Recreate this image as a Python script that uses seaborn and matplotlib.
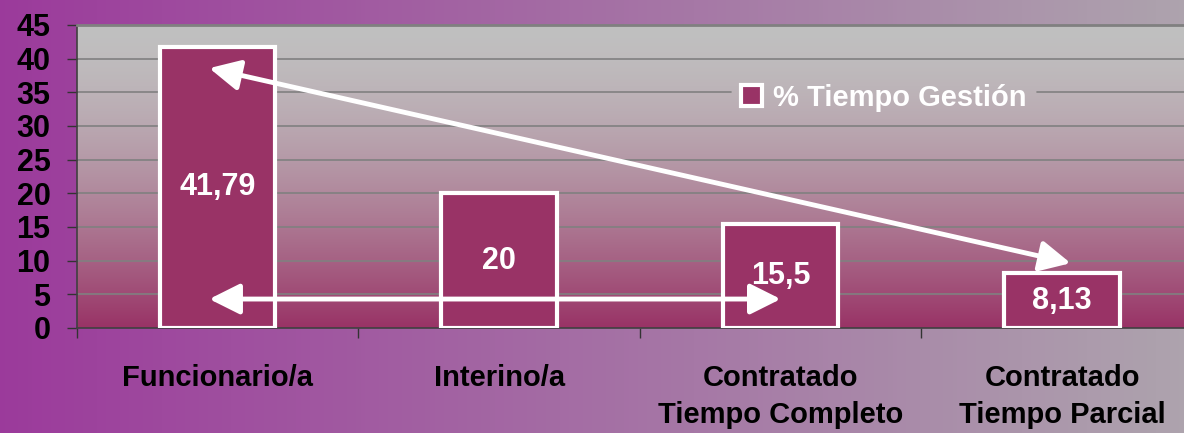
import numpy as np
import matplotlib
matplotlib.use("Agg")
import matplotlib.pyplot as plt
import seaborn as sns
from matplotlib.patches import Patch

# data
categories = ["Funcionario/a", "Interino/a", "Contratado\nTiempo Completo", "Contratado\nTiempo Parcial"]
values = [41.79, 20, 15.5, 8.13]
series_name = "% Tiempo Gestión"
y_ticks = list(range(0, 50, 5))

MAROON = "#993366"

sns.set_style("white")
plt.rcParams["font.family"] = ["Liberation Sans", "DejaVu Sans"]
plt.rcParams["font.weight"] = "bold"
plt.rcParams["text.color"] = "black"
plt.rcParams["xtick.color"] = "black"
plt.rcParams["ytick.color"] = "black"

fig = plt.figure(figsize=(11.84, 4.33), dpi=100)

# purple -> grey horizontal background of the slide
bg = fig.add_axes([0, 0, 1, 1], zorder=-10)
c_left = np.array([0.61, 0.23, 0.61])
c_right = np.array([0.68, 0.64, 0.68])
t = np.linspace(0, 1, 256)
grad = c_left[None, :] * (1 - t[:, None]) + c_right[None, :] * t[:, None]
bg.imshow(grad[None, :, :], aspect="auto", extent=[0, 1, 0, 1])
bg.axis("off")

ax = fig.add_axes([0.065, 0.2425, 0.951, 0.6998])

# grey -> maroon vertical gradient inside the plot area
c_top = np.array([0.753, 0.753, 0.753])
c_bot = np.array([0.60, 0.20, 0.40])
v = np.linspace(0, 1, 256)
w = v ** 1.6
vgrad = c_top[None, :] * (1 - w[:, None]) + c_bot[None, :] * w[:, None]
ax.imshow(vgrad[:, None, :], aspect="auto", extent=[-0.5, 3.5, 0, 45], zorder=-1)

# gridlines (the one behind the legend is interrupted)
for yt in y_ticks[1:-1]:
    if yt == 35:
        ax.axhline(yt, xmin=0, xmax=0.581, color="#808080", lw=1.2, zorder=0.5)
        ax.axhline(yt, xmin=0.853, xmax=1, color="#808080", lw=1.2, zorder=0.5)
    else:
        ax.axhline(yt, color="#808080", lw=1.2, zorder=0.5)

sns.barplot(x=categories, y=values, color=MAROON, saturation=1, width=0.41,
            edgecolor="white", linewidth=3, ax=ax, zorder=3)

for i, val in enumerate(values):
    txt = f"{val:g}".replace(".", ",")
    ax.text(i, val / 2, txt, color="white", fontsize=22, fontweight="bold",
            ha="center", va="center", zorder=5)

# arrows linking the bars
arrow = dict(arrowstyle="<|-|>,head_length=0.62,head_width=0.31", color="white",
             lw=3.5, mutation_scale=30, shrinkA=0, shrinkB=0)
ax.annotate("", xy=(-0.03, values[0] - 3.2), xytext=(3.03, values[3] + 1.5),
            arrowprops=arrow, zorder=6)
ax.annotate("", xy=(-0.03, 4.3), xytext=(2.0, 4.3), arrowprops=arrow, zorder=6)

ax.set_xlim(-0.5, 3.5)
ax.set_ylim(0, 45)
ax.set_yticks(y_ticks)
ax.grid(False)
ax.set(xlabel="", ylabel="")

ax.tick_params(axis="y", length=7, width=1, direction="out", pad=12,
               labelsize=22, color="#333333", left=True)
ax.set_xticks(range(len(categories)))
ax.set_xticklabels(categories, linespacing=1.4)
ax.set_xticks([-0.5, 0.5, 1.5, 2.5, 3.5], minor=True)
ax.tick_params(axis="x", which="major", length=0, pad=26, labelsize=21)
ax.tick_params(axis="x", which="minor", length=7, width=1, direction="out",
               color="#333333", bottom=True)

ax.spines["right"].set_visible(False)
ax.spines["top"].set_color("#808080")
ax.spines["top"].set_linewidth(2)
for s in ["left", "bottom"]:
    ax.spines[s].set_color("#404040")
    ax.spines[s].set_linewidth(1.2)

handle = Patch(facecolor=MAROON, edgecolor="white", linewidth=3)
leg = ax.legend([handle], [series_name], loc="center",
                bbox_to_anchor=(0.7466, 0.774), bbox_transform=fig.transFigure,
                prop={"weight": "bold", "size": 21}, labelcolor="white",
                handlelength=0.7, handleheight=0.7, handletextpad=0.4,
                frameon=False)

fig.savefig("out.png", dpi=100)
